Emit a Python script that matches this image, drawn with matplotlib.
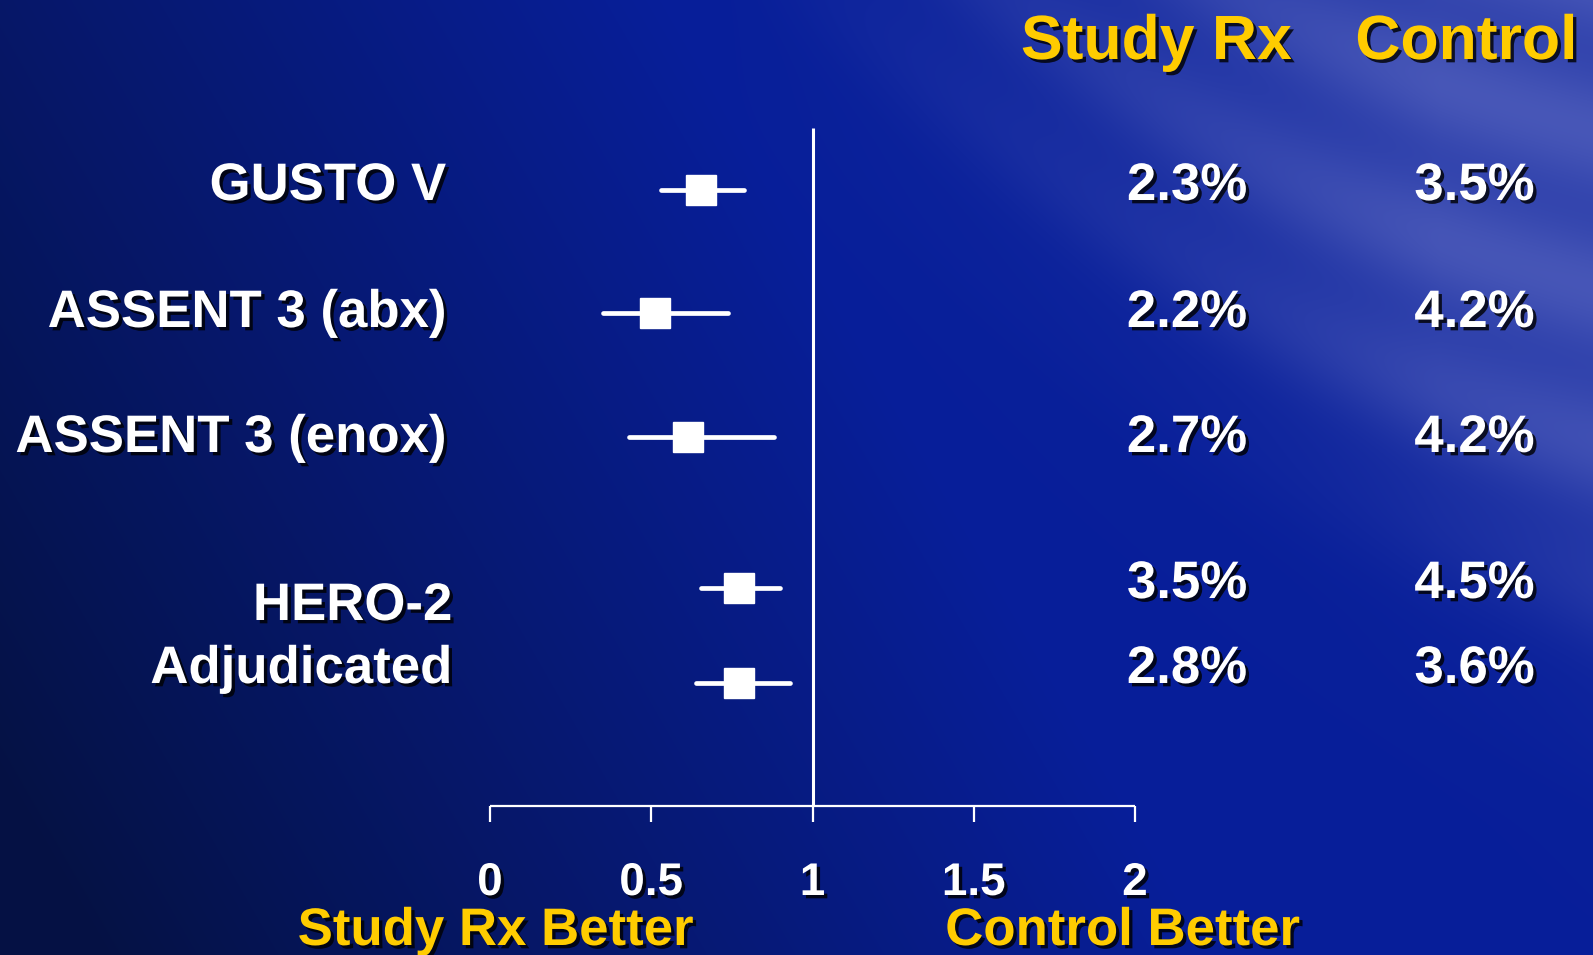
import numpy as np
import matplotlib
matplotlib.use('Agg')
import matplotlib.pyplot as plt
import matplotlib.patheffects as pe

# odds ratios with 95% CI
trials = ['GUSTO V', 'ASSENT 3 (abx)', 'ASSENT 3 (enox)', 'HERO-2', 'Adjudicated']
odds = [0.655, 0.513, 0.615, 0.772, 0.772]
ci_lo = [0.530, 0.350, 0.432, 0.654, 0.640]
ci_hi = [0.788, 0.737, 0.882, 0.899, 0.930]
study_rx = ['2.3%', '2.2%', '2.7%', '3.5%', '2.8%']
control = ['3.5%', '4.2%', '4.2%', '4.5%', '3.6%']
xticks = [0, 0.5, 1, 1.5, 2]
xticklabels = ['0', '0.5', '1', '1.5', '2']

# layout (pixel rows on the slide)
W, H = 1593, 955
row_y = [190, 313, 437, 588, 683]
text_base = [200, 327, 452, 598, 683]
label_base = [200, 327, 452, 620, 683]
x0_px, x_scale = 490, 322.5

YELLOW = '#FFCC00'
shadow = [pe.withSimplePatchShadow(offset=(2.4, -2.4), shadow_rgbFace='black', alpha=0.8)]
font = 'Liberation Sans'

fig = plt.figure(figsize=(W / 100, H / 100), dpi=100)
ax = fig.add_axes([0, 0, 1, 1])
xmin, xmax = -x0_px / x_scale, (W - x0_px) / x_scale
ax.set_xlim(xmin, xmax)
ax.set_ylim(H, 0)
ax.axis('off')

# background gradient
X, Y = np.meshgrid(np.linspace(0, 1, W), np.linspace(0, 1, H))
dark = np.array([0.02, 0.07, 0.27])
royal = np.array([0.03, 0.12, 0.60])
light = np.array([0.28, 0.34, 0.72])
f = np.clip(1.45 * X + 0.4 * (1 - Y) - 0.1 * Y, 0, 1) ** 0.95
img = dark + (royal - dark) * f[..., None]
yc = (X - 0.48) * 1.15
g = 1 / (1 + np.exp(-(yc - Y) / 0.07)) * np.clip((X - 0.45) * 2.2, 0, 1)
streak = 0.5 + 0.5 * np.sin((Y - 0.9 * X) * 38 + 3 * np.sin(X * 6))
g = g * (0.7 + 0.3 * streak)
img = img + (light - img) * g[..., None]
ax.imshow(np.clip(img, 0, 1), extent=(xmin, xmax, H, 0), aspect='auto', zorder=0)

# reference line and axis
ax.vlines(1, 128, 806, color='white', lw=2.2, zorder=2)
ax.hlines(806, xticks[0], xticks[-1], color='white', lw=1.6, zorder=2)
ax.vlines(xticks, 806, 822, color='white', lw=1.6, zorder=2)
for xv, lab in zip(xticks, xticklabels):
    ax.text(xv, 895, lab, color='white', fontsize=33, fontweight='bold', family=font,
            ha='center', va='baseline', path_effects=shadow)

# CI lines and point estimates
ax.hlines(row_y, ci_lo, ci_hi, color='white', lw=3.4, capstyle='round', zorder=3)
ax.plot(odds, row_y, 's', color='white', markersize=22, zorder=4)

# row labels and percentages
lab_right = [-0.137, -0.137, -0.137, -0.118, -0.118]
for i, name in enumerate(trials):
    ax.text(lab_right[i], label_base[i], name, color='white', fontsize=38, fontweight='bold',
            family=font, ha='right', va='baseline', path_effects=shadow)
    ax.text(2.348, text_base[i], study_rx[i], color='white', fontsize=38, fontweight='bold',
            family=font, ha='right', va='baseline', path_effects=shadow)
    ax.text(3.239, text_base[i], control[i], color='white', fontsize=38, fontweight='bold',
            family=font, ha='right', va='baseline', path_effects=shadow)

# column headers
ax.text(2.487, 59, 'Study Rx', color=YELLOW, fontsize=45, fontweight='bold', family=font,
        ha='right', va='baseline', path_effects=shadow)
ax.text(3.373, 59, 'Control', color=YELLOW, fontsize=45, fontweight='bold', family=font,
        ha='right', va='baseline', path_effects=shadow)

# direction labels
ax.text(0.016, 945, 'Study Rx Better', color=YELLOW, fontsize=38, fontweight='bold',
        family=font, ha='center', va='baseline', path_effects=shadow)
ax.text(1.96, 945, 'Control Better', color=YELLOW, fontsize=38, fontweight='bold',
        family=font, ha='center', va='baseline', path_effects=shadow)

fig.savefig('out.png', dpi=100)
